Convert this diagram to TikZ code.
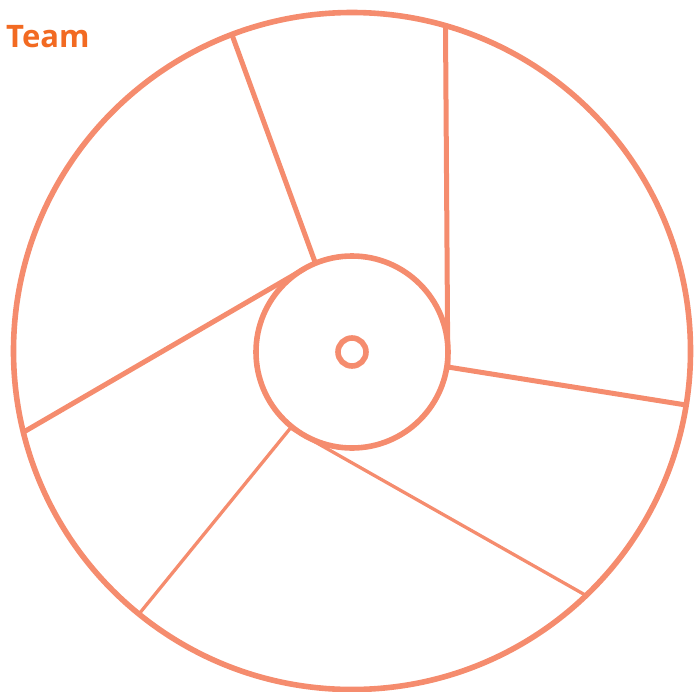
\documentclass[tikz,border=0pt]{standalone}
\usepackage{fontspec}
\newfontfamily\titlefont{Open Sans}
\definecolor{linec}{RGB}{245,140,110}
\definecolor{titlec}{RGB}{242,106,34}
\begin{document}
\begin{tikzpicture}[x=1pt,y=-1pt,
  thick line/.style={draw=linec,line width=5pt},
  thin line/.style={draw=linec,line width=3.3pt},
  ring/.style={draw=linec,line width=5.6pt}]
\useasboundingbox (0,0) rectangle (696,691);
\coordinate (c) at (352,351);
\coordinate (ci) at (352,352);
\draw[ring] (c) circle[radius=338.5];
\draw[ring] (ci) circle[radius=96];
\draw[ring] (ci) circle[radius=14];
% endpoints
\coordinate (a1) at (231.7,34);
\coordinate (a2) at (315,262);
\coordinate (b1) at (445.5,26);
\coordinate (b2) at (447.8,367);
\coordinate (r1) at (686,405);
\coordinate (l1) at (22,433);
\coordinate (l2) at (304,269);
\coordinate (d1) at (139,614);
\coordinate (d2) at (290.5,428);
\coordinate (e1) at (587,596);
\draw[thick line] (a1) -- (a2);
\draw[thick line] (b1) -- (b2) -- (r1);
\draw[thick line] (l1) -- (l2);
\draw[thin line] (d1) -- (d2) -- (e1);
\node[anchor=base west,inner sep=0pt,text=titlec,font=\titlefont\bfseries\fontsize{31}{37}\selectfont] (title) at (6,47) {Team};
\end{tikzpicture}
\end{document}
